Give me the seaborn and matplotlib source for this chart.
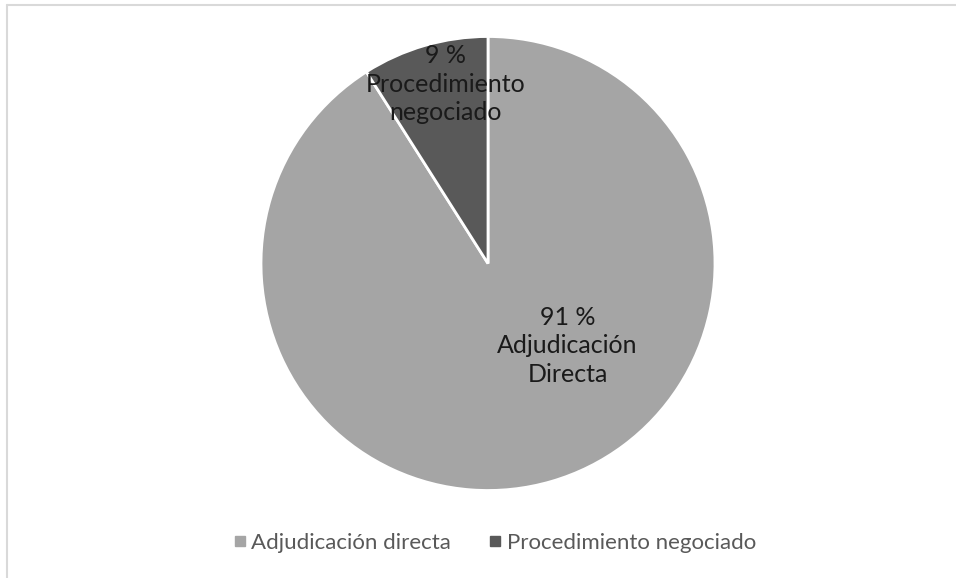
import matplotlib
matplotlib.use("Agg")
import matplotlib.pyplot as plt
import seaborn as sns
from matplotlib.lines import Line2D

# ------------------------------
# Data
# ------------------------------
categories = ["Adjudicación directa", "Procedimiento negociado"]
shares = [91, 9]
slice_labels = ["91 %\nAdjudicación\nDirecta", "9 %\nProcedimiento\nnegociado"]
colors = ["#a5a5a5", "#595959"]

sns.set_theme(style="white")
plt.rcParams['font.family'] = ['Lato', 'DejaVu Sans']

fig = plt.figure(figsize=(9.56, 5.78), dpi=100)

# chart border (only top/left visible in the reference)
fig.add_artist(plt.Line2D([6.5/956, 1.0], [1 - 5/578, 1 - 5/578], color="#d9d9d9", lw=1.5))
fig.add_artist(plt.Line2D([6.5/956, 6.5/956], [0, 1 - 5/578], color="#d9d9d9", lw=1.5))

# pie: centre (488, 263.5), radius 227 px
r = 227
ax = fig.add_axes([(488 - r)/956, (578 - 263.5 - r)/578, 2*r/956, 2*r/578])
wedges, _ = ax.pie(shares, colors=colors, startangle=90, counterclock=False,
                   wedgeprops=dict(edgecolor="white", linewidth=2))
ax.set_xlim(-1, 1)
ax.set_ylim(-1, 1)
ax.set_aspect("equal")
ax.axis("off")

# labels placed like Excel's best-fit
label_pos = [(0.35, -0.363), (-0.187, 0.79)]
for txt, (x, y) in zip(slice_labels, label_pos):
    ax.text(x, y, txt, ha="center", va="center", fontsize=18, color="#1a1a1a",
            linespacing=1.3)

handles = [Line2D([], [], marker="s", linestyle="none", markersize=7.5,
                  markerfacecolor=c, markeredgecolor=c) for c in colors]
fig.legend(handles, categories, loc="center", bbox_to_anchor=(493.5/956, 1 - 543/578),
           ncol=2, frameon=False, fontsize=16, labelcolor="#595959",
           handletextpad=0.1, columnspacing=1.6, handlelength=0.8)

fig.savefig("out.png", dpi=100)
